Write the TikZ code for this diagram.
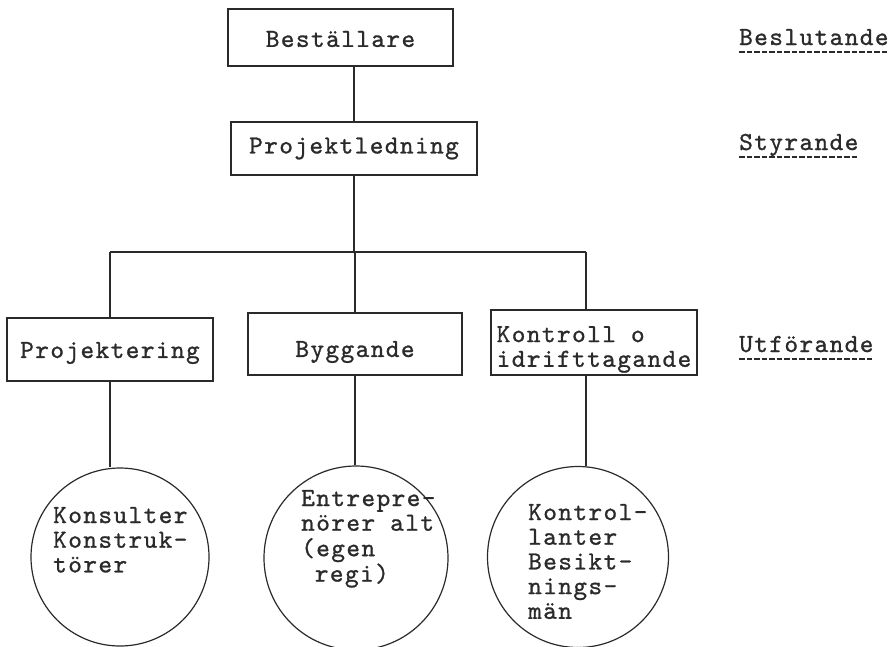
\documentclass[tikz,border=0pt]{standalone}
\usepackage{fontspec}
\newfontfamily\tw{lmmono10-regular.otf}[LetterSpace=5.5,FakeBold=1]
\usetikzlibrary{calc}
\definecolor{ink}{HTML}{2A2A2A}
\newcommand\tlines[1]{\begin{tabular}[t]{@{}l@{}}#1\end{tabular}}
\newcommand\dn[2]{\raisebox{-#1pt}[\height][\depth]{#2}}
\begin{document}
\begin{tikzpicture}[x=1pt,y=-1pt,
  every node/.style={font=\tw\fontsize{26}{24.7}\selectfont, inner sep=0pt, text=ink},
  box/.style={draw=ink, line width=1.4pt, rectangle},
  circ/.style={draw=ink, line width=1.2pt, circle},
  txt/.style={anchor=base west},
  wire/.style={draw=ink, line width=1.6pt},
  ul/.style={draw=ink, line width=1.6pt, dash pattern=on 5.5pt off 2pt}]
\useasboundingbox (0,0) rectangle (891,646);
% boxes
\node[box, minimum width=225, minimum height=57] (b1) at (340.5,37.5) {\dn{1.5}{Beställare}};
\node[box, minimum width=246, minimum height=53] (b2) at (354,148.5) {Projektledning};
\node[box, minimum width=206, minimum height=63] (p1) at (110,349.5) {\dn{3.5}{Projektering}};
\node[box, minimum width=214, minimum height=62] (p2) at (355,344) {\dn{8}{Byggande}};
\node[box, minimum width=206, minimum height=65] (p3) at (594,342.5) {\dn{7}{\begin{tabular}{@{}l@{}}Kontroll o\\idrifttagande\end{tabular}}};
% circles
\node[circ, minimum size=178] (c1) at (120,557) {};
\node[circ, minimum size=184] (c2) at (356,558) {};
\node[circ, minimum size=181] (c3) at (578,557) {};
\node[txt] (t1) at ($(c1.center)+(-67,-34)$) {\tlines{Konsulter\\Konstruk-\\törer}};
\node[txt] (t2) at ($(c2.center)+(-55,-52)$) {\tlines{Entrepre-\\nörer alt\\(egen\\\phantom{(}regi)}};
\node[txt] (t3) at ($(c3.center)+(-50,-37)$) {\tlines{Kontrol-\\lanter\\Besikt-\\nings-\\män}};
% right labels
\node[txt] (l1) at (739,45) {Beslutande};
\node[txt] (l2) at (739,150) {Styrande};
\node[txt] (l3) at (739,352) {Utförande};
\foreach \l in {l1,l2,l3}{
  \draw[ul] ([yshift=-7pt]\l.base west) -- ([yshift=-7pt]\l.base east);
}
% connectors
\coordinate (hl) at (110,252);
\coordinate (hr) at (586,252);
\draw[wire] (b1.south -| b2.north) -- (b2.north);
\draw[wire] (b2.south) -- (b2.south |- hl);
\draw[wire] (hl) -- (hr);
\draw[wire] (hl) -- (hl |- p1.north);
\draw[wire] (p2.north) -- (p2.north |- hl);
\draw[wire] (hr) -- (hr |- p3.north);
\draw[wire] (p1.south) -- (p1.south |- c1.north);
\draw[wire] (p2.south) -- (p2.south |- c2.north);
\draw[wire] (hr |- p3.south) -- (hr |- c3.north);
\end{tikzpicture}
\end{document}
